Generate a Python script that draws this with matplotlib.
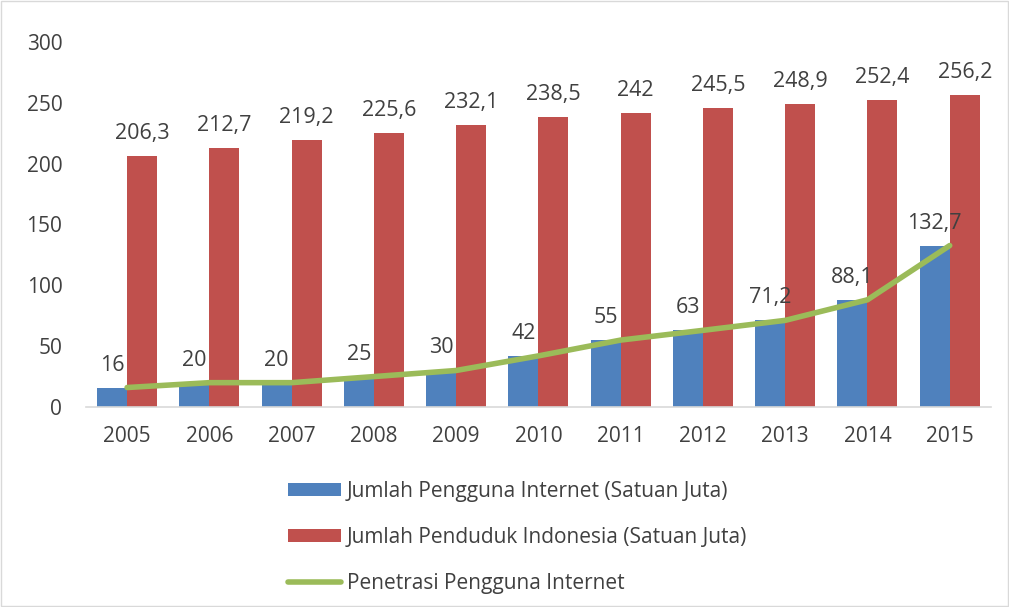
import numpy as np
import matplotlib
matplotlib.use('Agg')
import matplotlib.pyplot as plt
from matplotlib.patches import Rectangle

plt.rcParams['font.family'] = ['Open Sans', 'DejaVu Sans']

# data
tahun = ['2005', '2006', '2007', '2008', '2009', '2010', '2011', '2012', '2013', '2014', '2015']
pengguna = [16, 20, 20, 25, 30, 42, 55, 63, 71.2, 88.1, 132.7]
penduduk = [206.3, 212.7, 219.2, 225.6, 232.1, 238.5, 242, 245.5, 248.9, 252.4, 256.2]
penetrasi = [16, 20, 20, 25, 30, 42, 55, 63, 71.2, 88.1, 132.7]

label_pengguna = 'Jumlah Pengguna Internet (Satuan Juta)'
label_penduduk = 'Jumlah Penduduk Indonesia (Satuan Juta)'
label_penetrasi = 'Penetrasi Pengguna Internet'

biru = '#4F81BD'
merah = '#C0504D'
hijau = '#9BBB59'
teks = '#404040'

def fmt(v):
    # angka desimal pakai koma
    s = ('%g' % v)
    return s.replace('.', ',')

fig = plt.figure(figsize=(10.09, 6.07), dpi=100)
ax = fig.add_axes([0.0852, 0.3295, 0.8968, 0.6013])

x = np.arange(len(tahun))
w = 0.365
b1 = ax.bar(x - w / 2, pengguna, w, color=biru, label=label_pengguna, zorder=2)
b2 = ax.bar(x + w / 2, penduduk, w, color=merah, label=label_penduduk, zorder=2)
ln, = ax.plot(x, penetrasi, color=hijau, lw=4.0, solid_capstyle='round',
              solid_joinstyle='round', label=label_penetrasi, zorder=3)

for xi, v in zip(x, pengguna):
    ax.annotate(fmt(v), (xi - w / 2, v), xytext=(0, 12), textcoords='offset pixels',
                ha='center', va='bottom', fontsize=15.5, color=teks, zorder=4)
for xi, v in zip(x, penduduk):
    ax.annotate(fmt(v), (xi + w / 2, v), xytext=(0, 12), textcoords='offset pixels',
                ha='center', va='bottom', fontsize=15.5, color=teks, zorder=4)

ax.set_xlim(-0.5, len(tahun) - 0.5)
ax.set_ylim(0, 300)
ax.set_yticks(np.arange(0, 301, 50))
ax.set_xticks(x)
ax.set_xticklabels(tahun)
ax.tick_params(axis='both', length=0, labelsize=15, labelcolor=teks)
ax.tick_params(axis='x', pad=14)
ax.tick_params(axis='y', pad=17)
for s in ['top', 'right', 'left']:
    ax.spines[s].set_visible(False)
ax.spines['bottom'].set_color('#D9D9D9')
ax.spines['bottom'].set_linewidth(1.2)

leg = fig.legend(handles=[b1, b2, ln], loc='upper left', bbox_to_anchor=(0.285, 0.208),
                 frameon=False, fontsize=15, labelcolor=teks, handlelength=2.55,
                 handleheight=0.6, handletextpad=0.3, labelspacing=1.2,
                 borderaxespad=0, borderpad=0)

# bingkai luar
fig.patches.append(Rectangle((0.001, 0.001), 0.998, 0.998, transform=fig.transFigure,
                             fill=False, edgecolor='#D9D9D9', lw=1))

fig.savefig('out.png', dpi=100)
